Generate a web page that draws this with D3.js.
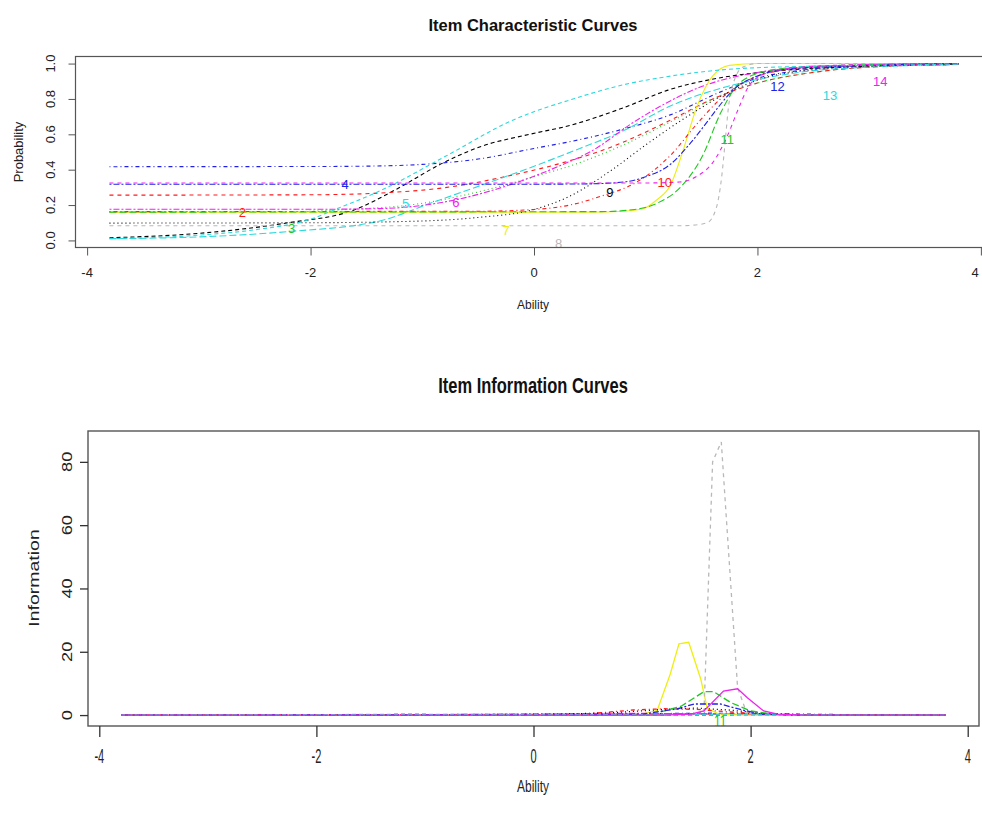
<!DOCTYPE html>
<html><head><meta charset="utf-8">
<script src="https://cdn.jsdelivr.net/npm/d3@7"></script>
<style>body{margin:0;background:#fff;} svg{display:block;font-family:"Liberation Sans",Arial,sans-serif;}</style>
</head><body><svg id="c" width="982" height="824"></svg>
<script>
const items = ["1","2","3","4","5","6","7","8","9","10","11","12","13","14"];
const itemColors = ["#000000","#ff1a1a","#1ec81e","#2020e6","#2ad9dd","#ee22ee","#eeee10","#b8b8b8",
                    "#000000","#ff1a1a","#1ec81e","#2020e6","#2ad9dd","#ee22ee"];
const itemDash = ["4,3","4,4","1,3","1,3,4,3","7,3","2,2,6,2","none","4,4","1,3","1,3,4,3","7,3","2,2,6,2","4,3","4,4"];
const xTicks = [-4,-2,0,2,4];
const iccYTicks = [0,0.2,0.4,0.6,0.8,1.0];
const iicYTicks = [0,20,40,60,80];

// Item characteristic curves: [ability, probability]
const icc1 = [[-3.8,0.015],[-3,0.04],[-2.2,0.1],[-1.62,0.17],[-1.23,0.29],[-0.84,0.43],[-0.48,0.53],[-0.04,0.6],[0.32,0.65],[0.8,0.75],[1.2,0.85],[1.67,0.92],[2.2,0.96],[3,0.985],[3.8,0.995]];
const icc2 = [[-3.8,0.256],[-2,0.258],[-1.38,0.268],[-0.78,0.3],[-0.19,0.37],[0.26,0.44],[0.7,0.53],[1.22,0.68],[1.6,0.8],[2,0.89],[2.5,0.95],[3,0.98],[3.8,0.995]];
const icc3 = [[-3.8,0.16],[-2.2,0.162],[-1.76,0.172],[-1.0,0.21],[-0.4,0.29],[0.0,0.36],[0.41,0.44],[0.8,0.54],[1.22,0.67],[1.67,0.82],[2,0.89],[2.5,0.95],[3,0.98],[3.8,0.995]];
const icc4 = [[-3.8,0.417],[-2,0.418],[-1.5,0.42],[-1,0.43],[-0.5,0.46],[0,0.52],[0.41,0.57],[0.8,0.63],[1.22,0.71],[1.67,0.84],[1.96,0.91],[2.5,0.97],[3,0.99],[3.8,1.0]];
const icc5 = [[-3.8,0.01],[-3,0.02],[-2.2,0.05],[-1.38,0.11],[-0.93,0.21],[-0.48,0.31],[-0.04,0.41],[0.41,0.52],[0.8,0.62],[1.22,0.76],[1.67,0.86],[2,0.91],[2.5,0.96],[3,0.98],[3.8,0.995]];
const icc6 = [[-3.8,0.176],[-2,0.176],[-1.38,0.18],[-0.7,0.23],[-0.19,0.32],[0.26,0.43],[0.5,0.5],[0.92,0.68],[1.5,0.87],[2,0.95],[2.5,0.98],[3,0.99],[3.8,1.0]];
const icc7 = [[-3.8,0.159],[0.5,0.16],[0.8,0.165],[0.98,0.18],[1.1,0.23],[1.22,0.31],[1.33,0.5],[1.46,0.76],[1.6,0.93],[1.75,0.99],[2,1.0],[3.8,1.0]];
const icc8 = [[-3.8,0.083],[1.3,0.083],[1.42,0.086],[1.55,0.1],[1.63,0.18],[1.68,0.36],[1.71,0.55],[1.74,0.75],[1.79,0.9],[1.87,0.98],[2,1.0],[3.8,1.0]];
const icc9 = [[-3.8,0.098],[-2,0.1],[-1,0.11],[-0.5,0.13],[0,0.175],[0.32,0.25],[0.7,0.4],[1.0,0.54],[1.37,0.7],[1.75,0.84],[2.2,0.94],[3,0.985],[3.8,0.995]];
const icc10 = [[-3.8,0.163],[-0.5,0.165],[0,0.175],[0.32,0.2],[0.6,0.25],[0.92,0.33],[1.22,0.48],[1.46,0.66],[1.67,0.8],[1.9,0.9],[2.2,0.96],[2.8,0.99],[3.8,1.0]];
const icc11 = [[-3.8,0.16],[0.6,0.163],[0.9,0.175],[1.1,0.21],[1.31,0.3],[1.51,0.48],[1.67,0.72],[1.84,0.89],[2.1,0.96],[2.5,0.985],[3.8,1.0]];
const icc12 = [[-3.8,0.318],[0,0.318],[0.5,0.32],[0.8,0.33],[1.0,0.36],[1.22,0.43],[1.4,0.55],[1.55,0.67],[1.67,0.77],[1.8,0.86],[2,0.93],[2.3,0.97],[3,0.99],[3.8,1.0]];
const icc13 = [[-3.8,0.01],[-3,0.03],[-2.5,0.06],[-2,0.12],[-1.76,0.18],[-1.38,0.28],[-0.78,0.48],[-0.19,0.68],[0.35,0.8],[0.8,0.88],[1.13,0.92],[1.8,0.97],[2.5,0.985],[3.8,0.995]];
const icc14 = [[-3.8,0.325],[1.0,0.325],[1.3,0.33],[1.45,0.36],[1.6,0.44],[1.73,0.59],[1.84,0.76],[1.93,0.88],[2.1,0.95],[2.4,0.98],[3,0.995],[3.8,1.0]];
const iccSeries = [icc1,icc2,icc3,icc4,icc5,icc6,icc7,icc8,icc9,icc10,icc11,icc12,icc13,icc14];
const iccLabelPos = [[-3.07,-0.065],[-2.61,0.16],[-2.17,0.07],[-1.69,0.32],[-1.15,0.21],[-0.7,0.215],[-0.25,0.057],[0.22,-0.014],[0.68,0.27],[1.17,0.33],[1.73,0.57],[2.18,0.87],[2.65,0.82],[3.1,0.9]];

// Item information curves: [ability, information]
const iic1 = [[-3.8,0.02],[-3,0.05],[-2,0.12],[-1.2,0.18],[-0.5,0.16],[0.5,0.1],[1.5,0.05],[2.5,0.02],[3.8,0]];
const iic2 = [[-3.8,0],[-2,0.01],[-1,0.05],[0,0.15],[0.8,0.3],[1.6,0.3],[2.4,0.1],[3.8,0]];
const iic3 = [[-3.8,0],[-2,0.02],[-1,0.1],[0,0.25],[0.8,0.4],[1.6,0.3],[2.4,0.1],[3.8,0]];
const iic4 = [[-3.8,0],[-1,0.02],[0,0.12],[1,0.4],[1.6,0.6],[2.2,0.4],[3,0.08],[3.8,0]];
const iic5 = [[-3.8,0],[-2,0.05],[-1,0.15],[0,0.3],[1,0.35],[2,0.2],[3,0.05],[3.8,0]];
const iic6 = [[-3.8,0],[-2,0.01],[-1,0.1],[0,0.35],[0.8,0.55],[1.6,0.4],[2.4,0.1],[3.8,0]];
const iic7 = [[-3.8,0],[0.8,0],[1.0,0.3],[1.14,1.5],[1.26,13],[1.34,22.5],[1.43,23],[1.54,11.5],[1.6,2.2],[1.7,0.4],[1.9,0],[3.8,0]];
const iic8 = [[-3.8,0],[1.3,0],[1.5,0.1],[1.57,0.5],[1.65,80],[1.73,86.3],[1.88,8.7],[1.96,1],[2.1,0.1],[2.5,0],[3.8,0]];
const iic9 = [[-3.8,0],[-0.5,0.05],[0.3,0.3],[0.8,0.9],[1.2,1.8],[1.5,2.2],[1.8,1.6],[2.1,0.6],[2.5,0.1],[3.8,0]];
const iic10 = [[-3.8,0],[0,0.1],[0.5,0.4],[0.92,1.6],[1.2,2.0],[1.5,1.8],[1.8,1.0],[2.1,0.3],[2.5,0.05],[3.8,0]];
const iic11 = [[-3.8,0],[0.8,0],[1.1,0.3],[1.36,2.8],[1.57,7.4],[1.66,7.4],[1.82,3.9],[2.0,1.3],[2.2,0.3],[2.5,0],[3.8,0]];
const iic12 = [[-3.8,0],[0.5,0.05],[1.0,0.3],[1.33,2],[1.48,3.5],[1.72,3.5],[1.88,2],[2.09,0.3],[2.4,0],[3.8,0]];
const iic13 = [[-3.8,0],[-2.5,0.08],[-1.5,0.2],[-0.8,0.25],[0,0.2],[1,0.1],[2,0.04],[3,0.01],[3.8,0]];
const iic14 = [[-3.8,0],[1.2,0],[1.45,0.3],[1.57,1.3],[1.75,7.6],[1.88,8.3],[1.97,5.5],[2.12,1.3],[2.25,0.3],[2.5,0],[3.8,0]];
const iicSeries = [iic1,iic2,iic3,iic4,iic5,iic6,iic7,iic8,iic9,iic10,iic11,iic12,iic13,iic14];
const iicLabelItems = ["11"];
const iicLabelPos = [[1.72,-2.0]];

const svg = d3.select("#c");
const ink = "#222";
const boxCol = "#555";

// ---------- Top panel ----------
const T = {l:75.5, r:992.5, t:56.5, b:247.5};
const x1 = d3.scaleLinear().domain([-4.104,4.104]).range([T.l,T.r]);
const y1 = d3.scaleLinear().domain([-0.04,1.04]).range([T.b,T.t]);
svg.append("clipPath").attr("id","clipT").append("rect").attr("x",T.l).attr("y",T.t).attr("width",T.r-T.l).attr("height",T.b-T.t);
const gT = svg.append("g").attr("clip-path","url(#clipT)");
const line1 = d3.line().x(d=>x1(d[0])).y(d=>y1(d[1])).curve(d3.curveMonotoneX);
iccSeries.forEach((s,i)=>{
  gT.append("path").attr("d",line1(s)).attr("fill","none").attr("stroke",itemColors[i])
    .attr("stroke-width",1.1).attr("stroke-dasharray",itemDash[i]);
});
iccLabelPos.forEach((p,i)=>{
  gT.append("text").attr("x",x1(p[0])).attr("y",y1(p[1])).attr("dy","0.36em")
    .attr("text-anchor","middle").attr("font-size",13).attr("fill",itemColors[i]).text(items[i]);
});
svg.append("rect").attr("x",T.l).attr("y",T.t).attr("width",T.r-T.l).attr("height",T.b-T.t)
  .attr("fill","none").attr("stroke",boxCol).attr("stroke-width",1.2);
const axB1 = svg.append("g").attr("transform",`translate(0,${T.b})`)
  .call(d3.axisBottom(x1).tickValues(xTicks).tickSize(8).tickSizeOuter(0).tickFormat(""));
const axL1 = svg.append("g").attr("transform",`translate(${T.l},0)`)
  .call(d3.axisLeft(y1).tickValues(iccYTicks).tickSize(7).tickSizeOuter(0).tickFormat(""));
[axB1,axL1].forEach(a=>{a.select(".domain").remove(); a.selectAll("line").attr("stroke",boxCol);});
xTicks.forEach(v=>{
  svg.append("text").attr("x",Math.min(x1(v),975)).attr("y",277).attr("text-anchor","middle")
    .attr("font-size",13).attr("fill",ink).text(String(v));
});
iccYTicks.forEach(v=>{
  svg.append("text").attr("transform",`translate(55,${y1(v)}) rotate(-90)`).attr("text-anchor","middle")
    .attr("font-size",13).attr("fill",ink).text(v.toFixed(1));
});
svg.append("text").attr("x",533).attr("y",31).attr("text-anchor","middle").attr("font-weight","bold")
  .attr("font-size",16.5).attr("fill","#111").text("Item Characteristic Curves");
svg.append("text").attr("x",533).attr("y",309).attr("text-anchor","middle")
  .attr("font-size",12).attr("fill",ink).text("Ability");
svg.append("text").attr("transform","translate(23,152) rotate(-90)").attr("text-anchor","middle")
  .attr("font-size",13).attr("fill",ink).text("Probability");

// ---------- Bottom panel ----------
const B = {l:88, r:979, t:431, b:726};
const x2 = d3.scaleLinear().domain([-4.104,4.104]).range([B.l,B.r]);
const y2 = d3.scaleLinear().domain([-3.452,89.75]).range([B.b,B.t]);
svg.append("clipPath").attr("id","clipB").append("rect").attr("x",B.l).attr("y",B.t).attr("width",B.r-B.l).attr("height",B.b-B.t);
const gB = svg.append("g").attr("clip-path","url(#clipB)");
const line2 = d3.line().x(d=>x2(d[0])).y(d=>y2(d[1]));
iicSeries.forEach((s,i)=>{
  gB.append("path").attr("d",line2(s)).attr("fill","none").attr("stroke",itemColors[i])
    .attr("stroke-width",1.3).attr("stroke-dasharray",i===13||i===6?"none":itemDash[i]);
});
iicLabelPos.forEach((p,i)=>{
  const it = iicLabelItems[i];
  gB.append("text").attr("transform",`translate(${x2(p[0])},${y2(p[1])}) scale(1,1.3)`).attr("dy","0.36em")
    .attr("text-anchor","middle").attr("font-size",12).attr("fill",itemColors[items.indexOf(it)]).text(it);
});
svg.append("rect").attr("x",B.l).attr("y",B.t).attr("width",B.r-B.l).attr("height",B.b-B.t)
  .attr("fill","none").attr("stroke",boxCol).attr("stroke-width",1.4);
const axB2 = svg.append("g").attr("transform",`translate(0,${B.b})`)
  .call(d3.axisBottom(x2).tickValues(xTicks).tickSize(11).tickSizeOuter(0).tickFormat(""));
const axL2 = svg.append("g").attr("transform",`translate(${B.l},0)`)
  .call(d3.axisLeft(y2).tickValues(iicYTicks).tickSize(8).tickSizeOuter(0).tickFormat(""));
[axB2,axL2].forEach(a=>{a.select(".domain").remove(); a.selectAll("line").attr("stroke","#333").attr("stroke-width",1.3);});
xTicks.forEach(v=>{
  svg.append("text").attr("transform",`translate(${x2(v)},763) scale(0.85,1.5)`).attr("text-anchor","middle")
    .attr("font-size",13).attr("fill",ink).text(String(v));
});
iicYTicks.forEach(v=>{
  svg.append("text").attr("transform",`translate(72,${y2(v)}) scale(1,1.3) rotate(-90)`).attr("text-anchor","middle")
    .attr("font-size",14).attr("fill",ink).text(String(v));
});
svg.append("text").attr("transform","translate(533,393) scale(1,1.35)").attr("text-anchor","middle")
  .attr("font-weight","bold").attr("font-size",16.5).attr("fill","#111").text("Item Information Curves");
svg.append("text").attr("transform","translate(533,792) scale(1,1.4)").attr("text-anchor","middle")
  .attr("font-size",12).attr("fill",ink).text("Ability");
svg.append("text").attr("transform","translate(39,578) scale(1,1.3) rotate(-90)").attr("text-anchor","middle")
  .attr("font-size",15).attr("fill",ink).text("Information");
</script></body></html>
